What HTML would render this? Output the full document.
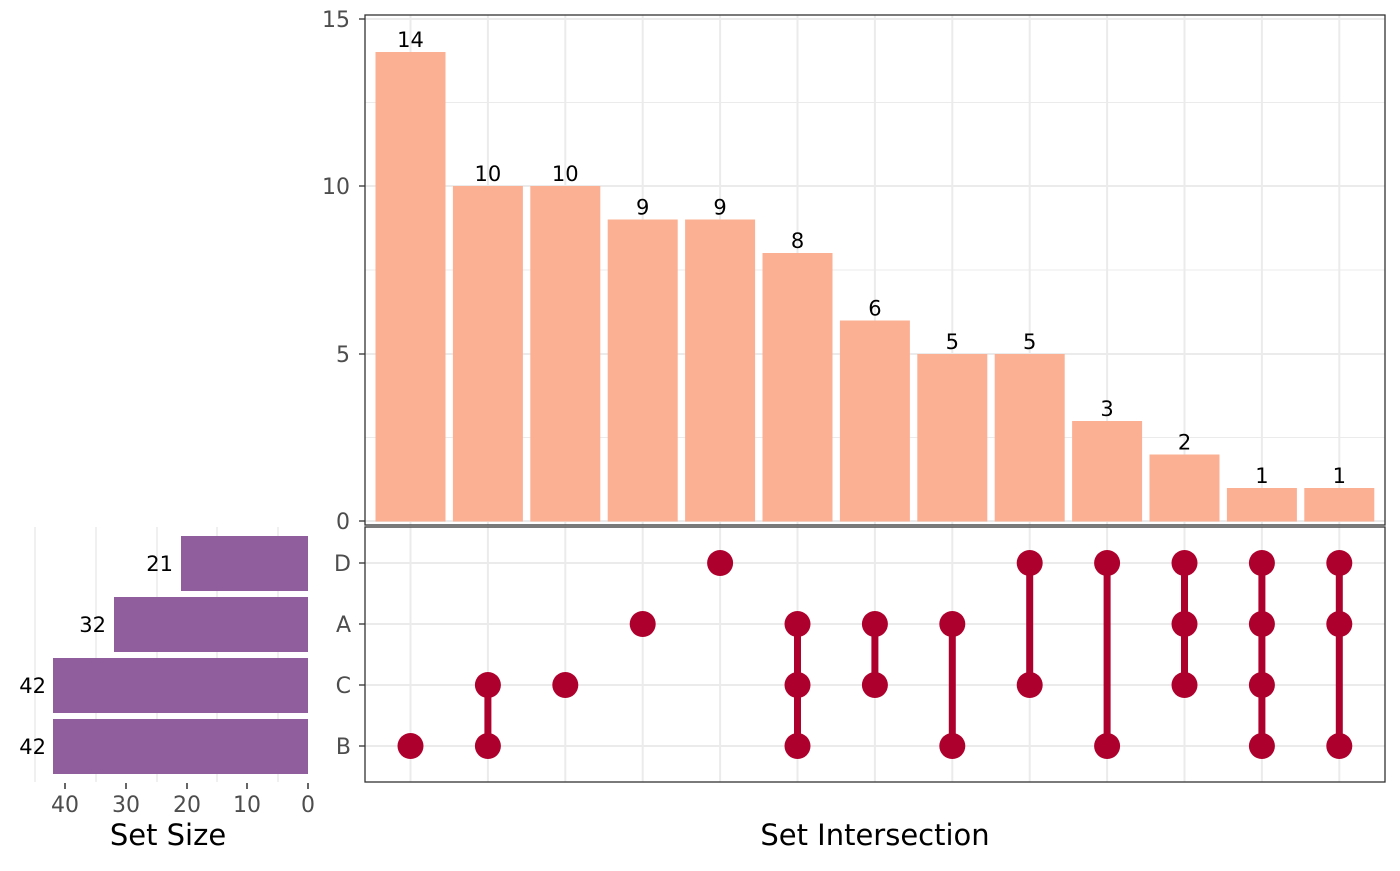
<!DOCTYPE html>
<html><head><meta charset="utf-8"><style>html,body{margin:0;padding:0;background:#fff}</style></head><body>
<svg width="1400" height="866" xmlns="http://www.w3.org/2000/svg" font-family="DejaVu Sans, Liberation Sans, sans-serif">
<rect width="1400" height="866" fill="#fff"/>
<g stroke="#ebebeb" stroke-width="1">
<line x1="365" x2="1385" y1="437.5" y2="437.5"/><line x1="365" x2="1385" y1="270" y2="270"/><line x1="365" x2="1385" y1="102.5" y2="102.5"/>
</g>
<g stroke="#ebebeb" stroke-width="2">
<line x1="365" x2="1385" y1="521" y2="521"/><line x1="365" x2="1385" y1="354" y2="354"/><line x1="365" x2="1385" y1="186" y2="186"/><line x1="365" x2="1385" y1="19" y2="19"/>
<line x1="410.5" x2="410.5" y1="15" y2="525"/><line x1="487.9" x2="487.9" y1="15" y2="525"/><line x1="565.3" x2="565.3" y1="15" y2="525"/><line x1="642.7" x2="642.7" y1="15" y2="525"/><line x1="720.1" x2="720.1" y1="15" y2="525"/><line x1="797.5" x2="797.5" y1="15" y2="525"/><line x1="874.9" x2="874.9" y1="15" y2="525"/><line x1="952.3" x2="952.3" y1="15" y2="525"/><line x1="1029.7" x2="1029.7" y1="15" y2="525"/><line x1="1107.1" x2="1107.1" y1="15" y2="525"/><line x1="1184.5" x2="1184.5" y1="15" y2="525"/><line x1="1261.9" x2="1261.9" y1="15" y2="525"/><line x1="1339.3" x2="1339.3" y1="15" y2="525"/>
</g>
<g fill="#fbb093">
<rect x="375.5" y="52" width="70" height="469.5"/>
<rect x="452.9" y="186" width="70" height="335.5"/>
<rect x="530.3" y="186" width="70" height="335.5"/>
<rect x="607.7" y="219.5" width="70" height="302"/>
<rect x="685.1" y="219.5" width="70" height="302"/>
<rect x="762.5" y="253" width="70" height="268.5"/>
<rect x="839.9" y="320.5" width="70" height="201"/>
<rect x="917.3" y="354" width="70" height="167.5"/>
<rect x="994.7" y="354" width="70" height="167.5"/>
<rect x="1072.1" y="421" width="70" height="100.5"/>
<rect x="1149.5" y="454.5" width="70" height="67"/>
<rect x="1226.9" y="488" width="70" height="33.5"/>
<rect x="1304.3" y="488" width="70" height="33.5"/>
</g>
<g font-size="21" fill="#000" text-anchor="middle">
<text x="410.5" y="47">14</text><text x="487.9" y="181">10</text><text x="565.3" y="181">10</text><text x="642.7" y="214.5">9</text><text x="720.1" y="214.5">9</text><text x="797.5" y="248">8</text><text x="874.9" y="315.5">6</text><text x="952.3" y="349">5</text><text x="1029.7" y="349">5</text><text x="1107.1" y="416">3</text><text x="1184.5" y="449.5">2</text><text x="1261.9" y="483">1</text><text x="1339.3" y="483">1</text>
</g>
<rect x="365" y="15" width="1020" height="510" fill="none" stroke="#333" stroke-width="1.3"/>
<g stroke="#333" stroke-width="1.3"><line x1="359" x2="365" y1="521" y2="521"/><line x1="359" x2="365" y1="354" y2="354"/><line x1="359" x2="365" y1="186" y2="186"/><line x1="359" x2="365" y1="19" y2="19"/></g>
<g font-size="22" fill="#4d4d4d" text-anchor="end">
<text x="350" y="529">0</text><text x="350" y="362">5</text><text x="350" y="194">10</text><text x="350" y="27">15</text>
</g>
<g stroke="#ebebeb" stroke-width="2">
<line x1="365" x2="1385" y1="563" y2="563"/><line x1="365" x2="1385" y1="624" y2="624"/><line x1="365" x2="1385" y1="685" y2="685"/><line x1="365" x2="1385" y1="746" y2="746"/>
<line x1="410.5" x2="410.5" y1="527" y2="782"/><line x1="487.9" x2="487.9" y1="527" y2="782"/><line x1="565.3" x2="565.3" y1="527" y2="782"/><line x1="642.7" x2="642.7" y1="527" y2="782"/><line x1="720.1" x2="720.1" y1="527" y2="782"/><line x1="797.5" x2="797.5" y1="527" y2="782"/><line x1="874.9" x2="874.9" y1="527" y2="782"/><line x1="952.3" x2="952.3" y1="527" y2="782"/><line x1="1029.7" x2="1029.7" y1="527" y2="782"/><line x1="1107.1" x2="1107.1" y1="527" y2="782"/><line x1="1184.5" x2="1184.5" y1="527" y2="782"/><line x1="1261.9" x2="1261.9" y1="527" y2="782"/><line x1="1339.3" x2="1339.3" y1="527" y2="782"/>
</g>
<g stroke="#ae002d" stroke-width="7">
<line x1="487.9" x2="487.9" y1="685" y2="746"/>
<line x1="797.5" x2="797.5" y1="624" y2="746"/>
<line x1="874.9" x2="874.9" y1="624" y2="685"/>
<line x1="952.3" x2="952.3" y1="624" y2="746"/>
<line x1="1029.7" x2="1029.7" y1="563" y2="685"/>
<line x1="1107.1" x2="1107.1" y1="563" y2="746"/>
<line x1="1184.5" x2="1184.5" y1="563" y2="685"/>
<line x1="1261.9" x2="1261.9" y1="563" y2="746"/>
<line x1="1339.3" x2="1339.3" y1="563" y2="746"/>
</g>
<g fill="#ae002d">
<circle cx="410.5" cy="746" r="13"/>
<circle cx="487.9" cy="685" r="13"/><circle cx="487.9" cy="746" r="13"/>
<circle cx="565.3" cy="685" r="13"/>
<circle cx="642.7" cy="624" r="13"/>
<circle cx="720.1" cy="563" r="13"/>
<circle cx="797.5" cy="624" r="13"/><circle cx="797.5" cy="685" r="13"/><circle cx="797.5" cy="746" r="13"/>
<circle cx="874.9" cy="624" r="13"/><circle cx="874.9" cy="685" r="13"/>
<circle cx="952.3" cy="624" r="13"/><circle cx="952.3" cy="746" r="13"/>
<circle cx="1029.7" cy="563" r="13"/><circle cx="1029.7" cy="685" r="13"/>
<circle cx="1107.1" cy="563" r="13"/><circle cx="1107.1" cy="746" r="13"/>
<circle cx="1184.5" cy="563" r="13"/><circle cx="1184.5" cy="624" r="13"/><circle cx="1184.5" cy="685" r="13"/>
<circle cx="1261.9" cy="563" r="13"/><circle cx="1261.9" cy="624" r="13"/><circle cx="1261.9" cy="685" r="13"/><circle cx="1261.9" cy="746" r="13"/>
<circle cx="1339.3" cy="563" r="13"/><circle cx="1339.3" cy="624" r="13"/><circle cx="1339.3" cy="746" r="13"/>
</g>
<rect x="365" y="527" width="1020" height="255" fill="none" stroke="#333" stroke-width="1.3"/>
<g stroke="#333" stroke-width="1.3"><line x1="359" x2="365" y1="563" y2="563"/><line x1="359" x2="365" y1="624" y2="624"/><line x1="359" x2="365" y1="685" y2="685"/><line x1="359" x2="365" y1="746" y2="746"/></g>
<g font-size="22" fill="#4d4d4d" text-anchor="end">
<text x="351" y="571">D</text><text x="351" y="632">A</text><text x="351" y="693">C</text><text x="351" y="754">B</text>
</g>
<text x="875" y="845" font-size="29" text-anchor="middle" fill="#000">Set Intersection</text>
<g stroke="#ebebeb" stroke-width="1.5">
<line x1="35" x2="35" y1="527" y2="782"/><line x1="96" x2="96" y1="527" y2="782"/><line x1="157" x2="157" y1="527" y2="782"/><line x1="217" x2="217" y1="527" y2="782"/><line x1="278" x2="278" y1="527" y2="782"/>
</g>
<g fill="#915e9d">
<rect x="181" y="536" width="127" height="55"/>
<rect x="114" y="597" width="194" height="55"/>
<rect x="53" y="658" width="255" height="55"/>
<rect x="53" y="719" width="255" height="55"/>
</g>
<g font-size="21" fill="#000" text-anchor="end">
<text x="173" y="571">21</text><text x="106" y="632">32</text><text x="46" y="693">42</text><text x="46" y="754">42</text>
</g>
<g stroke="#333" stroke-width="1.5"><line x1="65" x2="65" y1="783" y2="789"/><line x1="126" x2="126" y1="783" y2="789"/><line x1="187" x2="187" y1="783" y2="789"/><line x1="247" x2="247" y1="783" y2="789"/><line x1="308" x2="308" y1="783" y2="789"/></g>
<g font-size="22" fill="#4d4d4d" text-anchor="middle">
<text x="65" y="812">40</text><text x="126" y="812">30</text><text x="187" y="812">20</text><text x="247" y="812">10</text><text x="308" y="812">0</text>
</g>
<text x="168" y="845" font-size="29" text-anchor="middle" fill="#000">Set Size</text>
</svg>
</body></html>
